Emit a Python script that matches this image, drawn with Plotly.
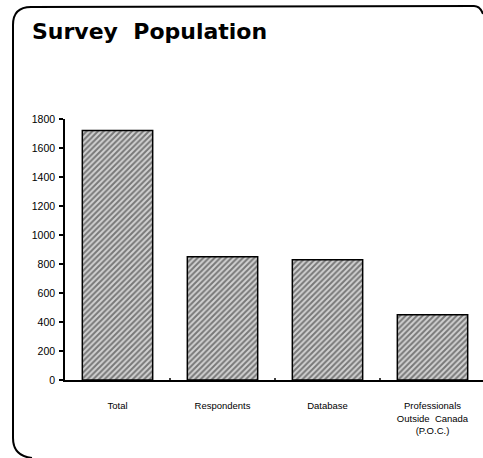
import plotly.graph_objects as go

# Survey population counts by group
categories = ["Total", "Respondents", "Database", "Professionals<br>Outside  Canada<br>(P.O.C.)"]
counts = [1720, 850, 830, 450]
y_ticks = [0, 200, 400, 600, 800, 1000, 1200, 1400, 1600, 1800]

W, H = 483, 458
ML, MR, MT, MB = 65, 0, 119, 78
PW, PH = W - ML - MR, H - MT - MB


def px(x):
    return (x - ML) / PW


def py(y):
    return (H - MB - y) / PH


fig = go.Figure()
fig.add_trace(go.Bar(
    x=list(range(len(categories))),
    y=counts,
    width=0.67,
    marker=dict(
        color="#cfcfcf",
        line=dict(color="black", width=1.5),
        pattern=dict(shape="/", fgcolor="#1e1e1e", bgcolor="#d2d2d2", size=4, solidity=0.5),
    ),
    hoverinfo="skip",
))

# rounded panel frame: left side, top edge and the two visible corners
frame = (
    f"M {px(32)},{py(458)} Q {px(13)},{py(456)} {px(13)},{py(438)} "
    f"L {px(13)},{py(25)} Q {px(13)},{py(7)} {px(31)},{py(7)} "
    f"L {px(474)},{py(6)} Q {px(480)},{py(6)} {px(483)},{py(14)}"
)
fig.add_shape(type="path", path=frame, xref="paper", yref="paper",
              line=dict(color="black", width=2))

fig.add_annotation(text="<b>Survey  Population</b>", xref="paper", yref="paper",
                   x=px(30), y=py(31), xanchor="left", yanchor="middle", showarrow=False,
                   font=dict(family="DejaVu Sans", size=22, color="black"))

fig.update_layout(
    width=W, height=H,
    margin=dict(l=ML, r=MR, t=MT, b=MB, pad=0),
    paper_bgcolor="white", plot_bgcolor="white",
    showlegend=False,
    font=dict(family="Liberation Sans", color="black"),
    xaxis=dict(
        range=[-0.5, 3.5 - 2 / 105],
        tickvals=list(range(len(categories))),
        ticktext=categories,
        showline=True, linecolor="black", linewidth=1.5,
        ticks="", showgrid=False, zeroline=False,
        tickfont=dict(size=9.5, family="Liberation Sans"),
        ticklabelstandoff=16,
    ),
    yaxis=dict(
        range=[0, 1800],
        tickvals=y_ticks,
        showline=True, linecolor="black", linewidth=1.5,
        ticks="outside", ticklen=4, tickwidth=1.5, tickcolor="black",
        showgrid=False, zeroline=False,
        tickfont=dict(size=10.5, family="Liberation Sans"),
        ticklabelstandoff=2,
    ),
)

# boundary tick marks between categories on the x axis
for b in [0.5, 1.5, 2.5]:
    fig.add_shape(type="line", xref="x", yref="paper", x0=b, x1=b, y0=-0.008, y1=0.008,
                  line=dict(color="black", width=1.5))

fig.write_html("out.html")
